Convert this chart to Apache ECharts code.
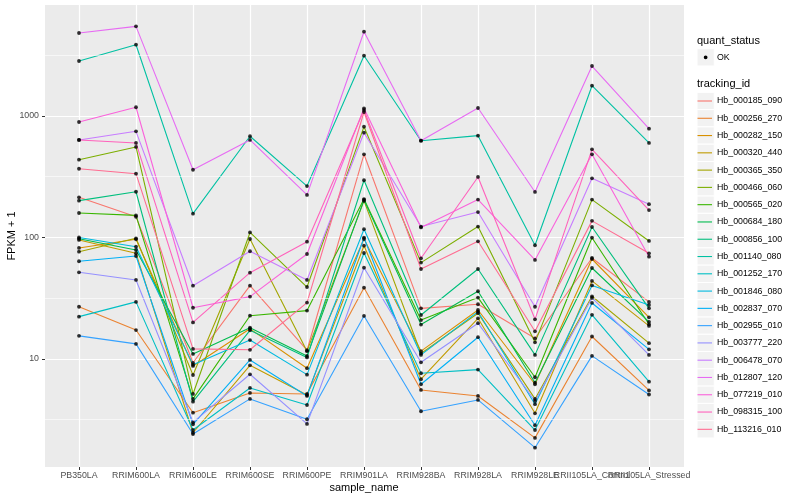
<!DOCTYPE html>
<html><head><meta charset="utf-8">
<script src="https://cdn.jsdelivr.net/npm/echarts@6/dist/echarts.min.js"></script>
<style>html,body{margin:0;padding:0;background:#fff}#c{width:800px;height:500px}</style>
</head><body><div id="c"></div>
<script>
// ---- data ----
const categories = ['PB350LA','RRIM600LA','RRIM600LE','RRIM600SE','RRIM600PE','RRIM901LA','RRIM928BA','RRIM928LA','RRIM928LE','RRII105LA_Control','RRII105LA_Stressed'];
const trackingIds = ['Hb_000185_090','Hb_000256_270','Hb_000282_150','Hb_000320_440','Hb_000365_350','Hb_000466_060','Hb_000565_020','Hb_000684_180','Hb_000856_100','Hb_001140_080','Hb_001252_170','Hb_001846_080','Hb_002837_070','Hb_002955_010','Hb_003777_220','Hb_006478_070','Hb_012807_120','Hb_077219_010','Hb_098315_100','Hb_113216_010'];
const v000185_090 = [214, 148, 9.3, 40.1, 11.8, 484, 26.1, 28.2, 14.8, 67.8, 29.5];
const v000256_270 = [26.9, 17.3, 3.61, 5.25, 5.15, 38.6, 5.56, 4.96, 2.24, 15.3, 5.51];
const v000282_150 = [82.0, 96.6, 8.76, 17.7, 8.39, 97.2, 11.6, 25.3, 6.19, 66.5, 22.0];
const v000320_440 = [95.4, 74.1, 2.47, 8.87, 5.06, 85.6, 6.81, 21.6, 3.57, 43.9, 18.7];
const v000365_350 = [76.4, 98.5, 7.38, 97.2, 11.6, 200, 11.1, 23.8, 4.69, 32.8, 13.5];
const v000466_060 = [437, 556, 5.15, 110, 39.1, 817, 62.1, 123, 13.7, 205, 93.6];
const v000565_020 = [159, 152, 4.69, 22.7, 25.0, 207, 20.9, 32.0, 7.07, 99.6, 19.3];
const v000684_180 = [97.7, 78.9, 11.0, 18.1, 10.6, 204, 19.2, 36.1, 6.38, 56.1, 20.2];
const v000856_100 = [201, 238, 4.45, 17.2, 10.3, 296, 23.0, 55.0, 10.8, 122, 26.1];
const v001140_080 = [2837, 3863, 157, 681, 265, 3136, 626, 689, 86.3, 1776, 600];
const v001252_170 = [22.3, 29.5, 2.60, 5.77, 4.18, 74.5, 7.63, 8.17, 2.60, 23.1, 6.50];
const v001846_080 = [100, 84.0, 8.98, 14.3, 7.43, 117, 10.8, 24.5, 4.24, 40.3, 27.8];
const v002837_070 = [63.7, 70.4, 2.90, 9.81, 4.96, 99.6, 6.19, 15.1, 2.85, 28.9, 12.0];
const v002955_010 = [15.5, 13.3, 2.41, 4.69, 3.19, 22.6, 3.71, 4.60, 1.86, 10.6, 5.10];
const v003777_220 = [51.7, 44.7, 3.01, 7.48, 2.92, 56.4, 9.39, 19.7, 4.51, 31.8, 10.8];
const v006478_070 = [635, 748, 40.1, 77.0, 44.7, 729, 123, 162, 26.9, 307, 188];
const v012807_120 = [4822, 5473, 361, 635, 224, 4942, 626, 1164, 237, 2579, 786];
const v077219_010 = [893, 1180, 26.4, 32.6, 73.1, 1157, 121, 205, 65.3, 484, 69.5];
const v098315_100 = [635, 600, 20.0, 51.3, 92.3, 1120, 67.4, 315, 21.2, 532, 168];
const v113216_010 = [368, 335, 12.1, 11.9, 29.1, 1079, 55.0, 93.0, 16.9, 137, 74.1];
const yMajorTicks = [10, 100, 1000];
const yMinorBreaks = [3.162, 31.62, 316.2, 3162];
const quantStatus = ['OK'];

const seriesValues = [v000185_090, v000256_270, v000282_150, v000320_440, v000365_350, v000466_060, v000565_020, v000684_180, v000856_100, v001140_080, v001252_170, v001846_080, v002837_070, v002955_010, v003777_220, v006478_070, v012807_120, v077219_010, v098315_100, v113216_010];
const palette = ['#F8766D','#EA8331','#D89000','#C09B00','#A3A500','#7CAE00','#39B600','#00BB4E','#00BF7D','#00C1A3','#00BFC4','#00BAE0','#00B0F6','#35A2FF','#9590FF','#C77CFF','#E76BF3','#FA62DB','#FF62BC','#FF6C91'];

// ---- chart ----
const FONT = '"Liberation Sans", Arial, sans-serif';
const yMin = 1.29, yMax = 8200;
const chart = echarts.init(document.getElementById('c'));

const lineSeries = trackingIds.map((id, i) => ({
  name: id, type: 'line', xAxisIndex: 1, yAxisIndex: 1,
  data: seriesValues[i], symbol: 'none', silent: true, z: 3,
  lineStyle: { width: 1.1, color: palette[i] }, itemStyle: { color: palette[i] }
}));
const pointData = [];
seriesValues.forEach(arr => arr.forEach((v, j) => pointData.push([j, v])));

const keyStep = 17.28, keyTop = 92.36, keyLeft = 697;
const graphics = [
  { type: 'text', z: 5, style: { text: 'quant_status', x: keyLeft, y: 40.7, verticalAlign: 'middle', font: '11px ' + FONT, fill: '#000' } },
  { type: 'rect', z: 1, shape: { x: keyLeft, y: 48.7, width: keyStep, height: keyStep }, style: { fill: '#f2f2f2', stroke: '#fff', lineWidth: 1 } },
  { type: 'circle', z: 5, shape: { cx: keyLeft + keyStep / 2, cy: 48.7 + keyStep / 2, r: 1.9 }, style: { fill: '#000' } },
  { type: 'text', z: 5, style: { text: quantStatus[0], x: 717, y: 48.7 + keyStep / 2, verticalAlign: 'middle', font: '8.8px ' + FONT, fill: '#000' } },
  { type: 'text', z: 5, style: { text: 'tracking_id', x: keyLeft, y: 84, verticalAlign: 'middle', font: '11px ' + FONT, fill: '#000' } }
];
trackingIds.forEach((id, i) => graphics.push({
  type: 'rect', z: 1, shape: { x: keyLeft, y: keyTop + i * keyStep, width: keyStep, height: keyStep },
  style: { fill: '#f2f2f2', stroke: '#fff', lineWidth: 1 }
}));

chart.setOption({
  animation: false,
  color: palette,
  textStyle: { fontFamily: FONT },
  grid: [
    { left: 45, right: 116, top: 5, bottom: 33, show: true, backgroundColor: '#ebebeb', borderWidth: 0, borderColor: 'transparent', containLabel: false, outerBoundsMode: 'none' },
    { left: 79, right: 151, top: 5, bottom: 33, show: false, containLabel: false, outerBoundsMode: 'none' }
  ],
  xAxis: [
    { type: 'value', gridIndex: 0, min: 0, max: 1, show: false },
    { type: 'category', gridIndex: 1, data: categories, boundaryGap: false,
      axisLine: { show: false },
      axisTick: { show: true, length: 3, lineStyle: { color: '#333333', width: 1 } },
      axisLabel: { interval: 0, color: '#4d4d4d', fontSize: 8.8, margin: 4, fontFamily: FONT, hideOverlap: false },
      splitLine: { show: true, lineStyle: { color: '#ffffff', width: 1.2 } },
      name: 'sample_name', nameLocation: 'middle', nameGap: 15, nameMoveOverlap: false,
      nameTextStyle: { fontSize: 11, color: '#000', fontFamily: FONT } }
  ],
  yAxis: [
    { type: 'log', logBase: 10, gridIndex: 0, min: yMin, max: yMax,
      axisLine: { show: false },
      axisTick: { show: true, length: 3, customValues: yMajorTicks, lineStyle: { color: '#333333', width: 1 } },
      axisLabel: { customValues: yMajorTicks, color: '#4d4d4d', fontSize: 8.8, margin: 6, fontFamily: FONT,
        formatter: v => yMajorTicks.includes(Math.round(v)) ? String(Math.round(v)) : '' },
      splitLine: { show: true, lineStyle: { color: '#ffffff', width: 1.2 } },
      name: 'FPKM + 1', nameLocation: 'middle', nameGap: 28, nameRotate: 90, nameMoveOverlap: false,
      nameTextStyle: { fontSize: 11, color: '#000', fontFamily: FONT } },
    { type: 'log', logBase: 10, gridIndex: 1, min: yMin, max: yMax, show: false, splitLine: { show: false } }
  ],
  legend: {
    orient: 'vertical', left: 697.5, top: keyTop, padding: 0, itemGap: 0,
    itemWidth: 14.5, itemHeight: 1.1, icon: 'rect', selectedMode: false, z: 6,
    data: trackingIds,
    textStyle: { fontSize: 8.8, lineHeight: keyStep, color: '#000', fontFamily: FONT }
  },
  graphic: graphics,
  series: [
    { type: 'line', name: 'minor', xAxisIndex: 0, yAxisIndex: 0, data: [], silent: true, z: 1,
      markLine: { silent: true, symbol: 'none', animation: false, label: { show: false },
        lineStyle: { color: '#ffffff', width: 0.6, type: 'solid' },
        data: yMinorBreaks.map(v => ({ yAxis: v })) } },
    ...lineSeries,
    { type: 'scatter', name: quantStatus[0], xAxisIndex: 1, yAxisIndex: 1, data: pointData,
      symbol: 'circle', symbolSize: 3.8, itemStyle: { color: '#000' }, silent: true, z: 5 }
  ]
});
</script></body></html>
